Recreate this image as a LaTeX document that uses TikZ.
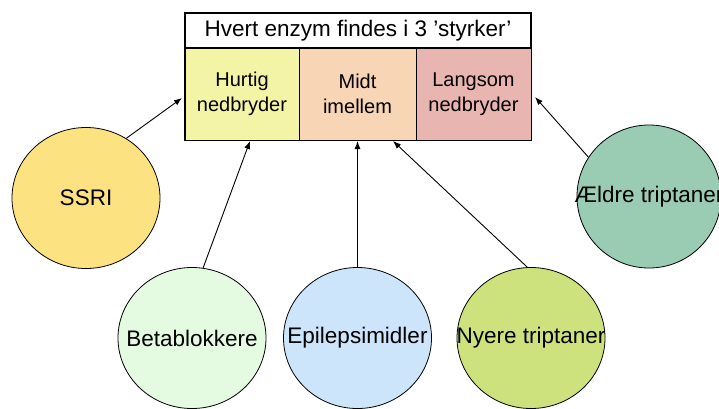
\documentclass[tikz,border=0pt]{standalone}
\usepackage{fontspec}
\setmainfont{Liberation Sans}
\usetikzlibrary{arrows.meta,shapes.geometric}
\definecolor{cHurtig}{HTML}{F4F4A6}
\definecolor{cMidt}{HTML}{F8D5B5}
\definecolor{cLangsom}{HTML}{E9B5B1}
\definecolor{cSSRI}{HTML}{FDE281}
\definecolor{cAeldre}{HTML}{9ACBB3}
\definecolor{cBeta}{HTML}{E4FBE1}
\definecolor{cEpi}{HTML}{CCE5FB}
\definecolor{cNyere}{HTML}{CDE27C}
\tikzset{
  cell/.style={draw=black, line width=1pt, minimum height=92pt, inner sep=0pt, align=center,
    font=\fontsize{20}{24.5}\selectfont},
  drug/.style={ellipse, draw=black, line width=0.8pt, minimum width=148pt, minimum height=141pt,
    inner sep=0pt, font=\fontsize{22.5}{25}\selectfont},
  arr/.style={-{Latex[length=8pt,width=6pt]}, line width=0.9pt},
}
\newcommand{\zw}[1]{\makebox[0pt]{#1}}
\begin{document}
\begin{tikzpicture}[x=1pt,y=-1pt]
\clip (0,0) rectangle (719,408);
\fill[white] (0,0) rectangle (719,408);
% title
\node[draw=black, line width=1.6pt, minimum width=346pt, minimum height=35pt, inner sep=0pt,
  font=\fontsize{22.5}{25}\selectfont] (title) at (358,30.5) {\zw{Hvert enzym findes i 3 ’styrker’}};
% cells
\node[cell, fill=cHurtig, minimum width=114pt] (hurtig) at (242,94) {Hurtig\\nedbryder};
\node[cell, fill=cMidt, minimum width=117pt] (midt) at (357.5,94) {Midt\\imellem};
\node[cell, fill=cLangsom, minimum width=115pt] (langsom) at (473.5,94) {Langsom\\nedbryder};
\draw[line width=1.8pt] (hurtig.north west) rectangle (langsom.south east);
% drugs
\node[drug, fill=cSSRI] (ssri) at (86,198) {\zw{SSRI}};
\node[drug, fill=cAeldre, minimum width=144pt, minimum height=143pt] (aeldre) at (649,196.5) {\zw{Ældre triptaner}};
\node[drug, fill=cBeta] (beta) at (192,338) {\zw{Betablokkere}};
\node[drug, fill=cEpi] (epi) at (357.5,338) {\zw{Epilepsimidler}};
\node[drug, fill=cNyere] (nyere) at (531,338) {\zw{Nyere triptaner}};
% arrow ends
\coordinate (eSSRI) at (182,98);
\coordinate (eAeldre) at (535,97);
\coordinate (eBeta) at (250,141);
\coordinate (eEpi) at (357.5,141);
\coordinate (eNyere) at (393,141);
\draw[arr] (ssri.56) -- (eSSRI);
\draw[arr] (aeldre.147) -- (eAeldre);
\draw[arr] (beta.81) -- (eBeta);
\draw[arr] (epi.90) -- (eEpi);
\draw[arr] (nyere.93) -- (eNyere);
\end{tikzpicture}
\end{document}
